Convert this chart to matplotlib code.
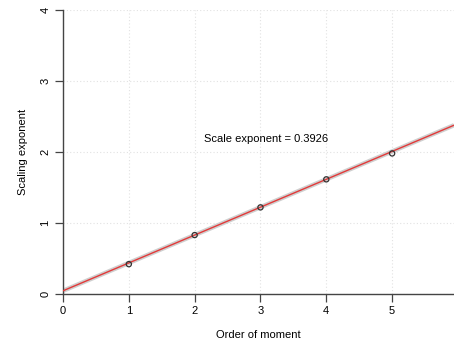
import numpy as np
import matplotlib
matplotlib.use("Agg")
import matplotlib.pyplot as plt

plt.rcParams['font.family'] = ['Liberation Sans', 'DejaVu Sans']

# data
orders = [1, 2, 3, 4, 5]
exponents = [0.42, 0.83, 1.22, 1.615, 1.98]
slope = 0.3926
intercept = 0.045
label = "Scale exponent = 0.3926"

fig = plt.figure(figsize=(4.54, 3.47), dpi=100)
ax = fig.add_axes([63/454, 53/347, 1 - 63/454, 284/347])

xmax = 5.94
xs = np.linspace(0, xmax, 50)
ax.plot(xs, intercept + slope * xs, color='#cfcfcf', lw=3.2, solid_capstyle='butt', zorder=2)
ax.plot(xs, intercept + slope * xs, color='#e23a3a', lw=1.0, zorder=3)
ax.scatter(orders, exponents, s=14, facecolors='none', edgecolors='#333333', linewidths=0.9, zorder=4)

ax.text(3.08, 2.18, label, ha='center', va='center', fontsize=8)

ax.set_xlim(0, xmax)
ax.set_ylim(0, 4)
ax.set_xticks([0, 1, 2, 3, 4, 5])
ax.set_yticks([0, 1, 2, 3, 4])
ax.grid(True, color='#e2e2e2', linestyle=(0, (1, 2)), lw=0.8)
ax.set_axisbelow(True)
for s in ['top', 'right']:
    ax.spines[s].set_visible(False)
for s in ['left', 'bottom']:
    ax.spines[s].set_color('#444444')
    ax.spines[s].set_linewidth(1.0)
ax.tick_params(axis='both', length=6, width=0.9, color='#444444', labelsize=8, pad=3)
plt.setp(ax.get_yticklabels(), rotation=90, va='center')
ax.set_xlabel("Order of moment", fontsize=8, labelpad=10)
ax.set_ylabel("Scaling exponent", fontsize=8, labelpad=9)

fig.savefig("out.png", dpi=100)
